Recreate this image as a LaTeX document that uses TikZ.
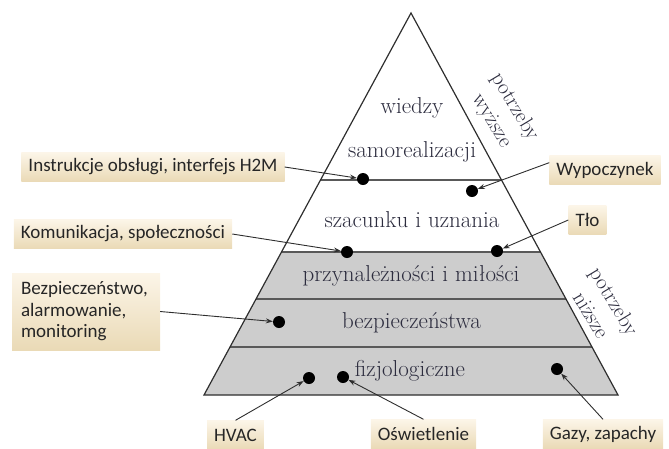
\documentclass[tikz,border=0pt]{standalone}
\usepackage{fontspec}
\newfontfamily\boxfont{Carlito}
\usepackage{tikz}
\usetikzlibrary{arrows.meta, positioning, calc}
\definecolor{boxtop}{HTML}{FCF5E8}
\definecolor{boxbottom}{HTML}{EADAB6}
\definecolor{levelgray}{HTML}{CDCDCD}
\definecolor{leveltext}{HTML}{2C2C3E}
\definecolor{edgegray}{HTML}{2E2E2E}

\tikzset{
  labelbox/.style={top color=boxtop, bottom color=boxbottom, text=black!85,
    font=\boxfont\fontsize{19}{21.5}\selectfont,
    inner xsep=7pt, inner ysep=0pt, minimum height=29pt},
  level/.style={text=leveltext, font=\fontsize{23}{26}\selectfont},
  side/.style={text=leveltext, font=\fontsize{21.5}{27}\selectfont, align=center, rotate=-59},
  spot/.style={circle, fill=black, minimum size=12pt, inner sep=0pt},
  pointer/.style={draw=edgegray, line width=0.9pt, ->}
}

\begin{document}
\begin{tikzpicture}[x=1pt, y=-1pt, >={Stealth[length=7pt, width=5pt]}]
  \useasboundingbox (0,0) rectangle (669,448);
  \coordinate (apex) at (411,13);
  \coordinate (baseleft) at (204,395);
  \coordinate (baseright) at (618,395);
  \foreach \t/\n in {0.4372/a, 0.6257/b, 0.7487/c, 0.8743/d} {
    \coordinate (l\n) at ($(apex)!\t!(baseleft)$);
    \coordinate (r\n) at ($(apex)!\t!(baseright)$);
  }
  \fill[levelgray] (lb) -- (rb) -- (baseright) -- (baseleft) -- cycle;
  \foreach \n in {a,b,c,d}
    \draw[black!65, line width=1.2pt] (l\n) -- (r\n);
  \draw[edgegray, line width=1.2pt] (apex) -- (baseright) -- (baseleft) -- cycle;

  \node[level] (wiedzy) at (412,108) {wiedzy};
  \node[level] (samorealizacja) at (412,152) {samorealizacji};
  \node[level] (szacunek) at (412,220) {szacunku i uznania};
  \node[level] (przynaleznosc) at (411,276) {przynależności i miłości};
  \node[level] (bezpieczenstwo) at (411.5,323) {bezpieczeństwa};
  \node[level] (fizjologia) at (410,371) {fizjologiczne};

  \node[side] (wyzsze) at (503,114) {potrzeby\\wyższe};
  \node[side] (nizsze) at (603,308) {potrzeby\\niższe};

  \node[labelbox] (manual) at (153,167) {Instrukcje obsługi, interfejs H2M};
  \node[labelbox] (community) at (123,234) {Komunikacja, społeczności};
  \node[labelbox] (rest) at (605,170) {Wypoczynek};
  \node[labelbox] (backdrop) at (587.5,220) {Tło};
  \node[labelbox, align=left, text width=130pt, inner xsep=9pt, minimum height=77pt] (safety) at (86,311.5) {Bezpieczeństwo,\\alarmowanie,\\monitoring};
  \node[labelbox] (hvac) at (235.5,435) {HVAC};
  \node[labelbox] (light) at (423.5,434) {Oświetlenie};
  \node[labelbox] (gas) at (603,434) {Gazy, zapachy};

  \node[spot] (manualspot) at (363,179) {};
  \node[spot] (restspot) at (472,191) {};
  \node[spot] (communityspot) at (347,252) {};
  \node[spot] (backdropspot) at (497,251) {};
  \node[spot] (safetyspot) at (279,322) {};
  \node[spot] (hvacspot) at (309,378) {};
  \node[spot] (lightspot) at (343,377) {};
  \node[spot] (gasspot) at (557,369) {};

  \draw[pointer] (manual.east) -- (manualspot);
  \draw[pointer] ($(rest.north west)!0.25!(rest.south west)$) -- (restspot);
  \draw[pointer] (community.east) -- (communityspot);
  \draw[pointer] (backdrop.west) -- (backdropspot);
  \draw[pointer] (safety.east) -- (safetyspot);
  \draw[pointer] (hvac.north) -- (hvacspot);
  \draw[pointer] (light.north) -- (lightspot);
  \draw[pointer] (gas.north) -- (gasspot);
\end{tikzpicture}
\end{document}
